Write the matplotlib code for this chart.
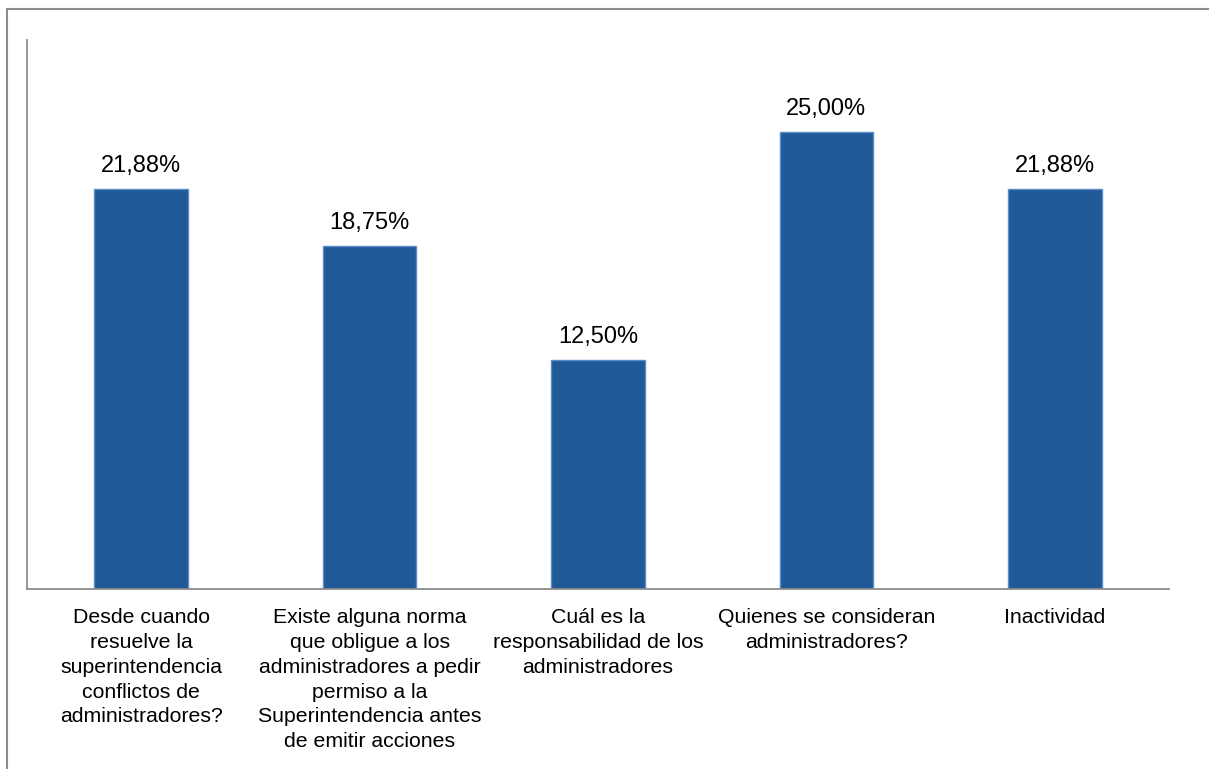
import matplotlib.pyplot as plt
from matplotlib.lines import Line2D

plt.rcParams['font.family'] = ['Liberation Sans', 'DejaVu Sans']

# data
categories = [
    "Desde cuando\nresuelve la\nsuperintendencia\nconflictos de\nadministradores?",
    "Existe alguna norma\nque obligue a los\nadministradores a pedir\npermiso a la\nSuperintendencia antes\nde emitir acciones",
    "Cuál es la\nresponsabilidad de los\nadministradores",
    "Quienes se consideran\nadministradores?",
    "Inactividad",
]
values = [21.88, 18.75, 12.50, 25.00, 21.88]
value_labels = ["21,88%", "18,75%", "12,50%", "25,00%", "21,88%"]

W, H = 1209, 769
fig = plt.figure(figsize=(W / 100, H / 100), dpi=100)
ax = fig.add_axes([27 / W, 1 - 589 / H, (1169 - 27) / W, (589 - 40) / H])

x = range(len(categories))
bars = ax.bar(x, values, width=0.41, color='#1F5A96', edgecolor='#5B8CC8', linewidth=1)

for b, lab in zip(bars, value_labels):
    ax.annotate(lab, (b.get_x() + b.get_width() / 2, b.get_height()),
                xytext=(0, 8.5), textcoords='offset points',
                ha='center', va='bottom', fontsize=17, color='black')

ax.set_xlim(-0.5, len(categories) - 0.5)
ax.set_ylim(0, 30)
ax.set_yticks([])
ax.set_xticks(list(x))
ax.set_xticklabels(categories, fontsize=15.3, linespacing=1.38, va='top')
ax.tick_params(axis='x', length=0, pad=14)

for s in ['top', 'right']:
    ax.spines[s].set_visible(False)
for s in ['left', 'bottom']:
    ax.spines[s].set_color('#8C8C8C')
    ax.spines[s].set_linewidth(1.3)

# outer chart frame (only top and left edges visible)
fig.add_artist(Line2D([7 / W, 7 / W], [0, 1 - 9 / H], color='#8C8C8C', lw=1.5))
fig.add_artist(Line2D([7 / W, 1], [1 - 9 / H, 1 - 9 / H], color='#8C8C8C', lw=1.5))

fig.savefig('out.png', dpi=100)
